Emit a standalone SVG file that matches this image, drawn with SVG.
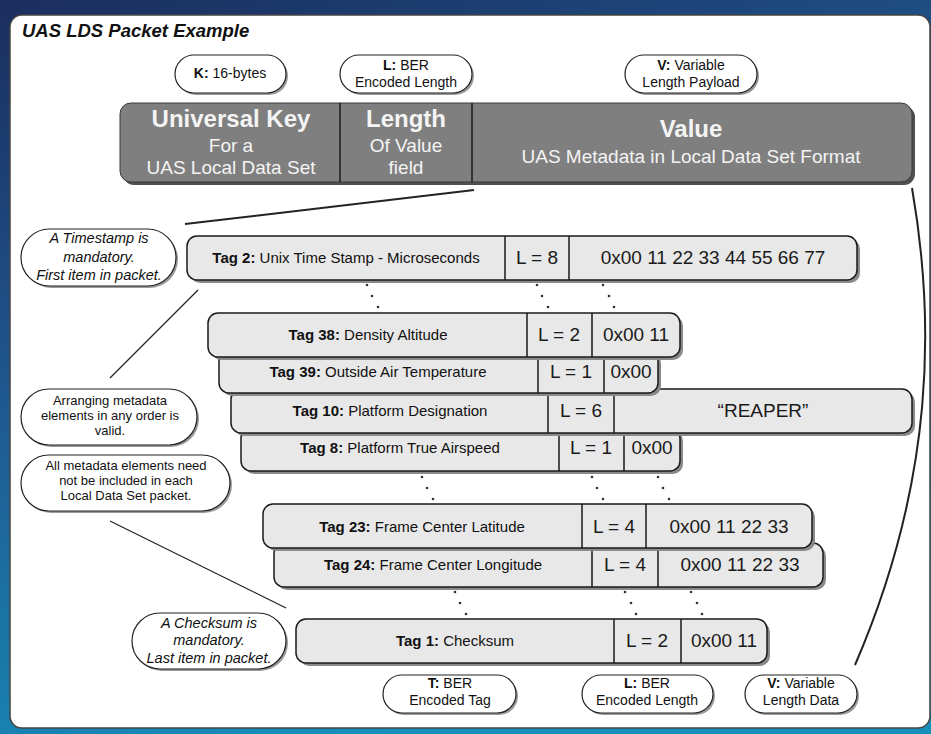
<svg xmlns="http://www.w3.org/2000/svg" width="931" height="734" viewBox="0 0 931 734">
<defs>
<linearGradient id="bg" x1="0" y1="0" x2="0.4" y2="1">
<stop offset="0" stop-color="#1b2d5e"/>
<stop offset="0.5" stop-color="#1f5b92"/>
<stop offset="1" stop-color="#1690bb"/>
</linearGradient>
<style>
text{font-family:"Liberation Sans",Arial,sans-serif;fill:#111}
.box{fill:#e8e8e8;stroke:#1a1a1a;stroke-width:1.5}
.shd{fill:#8a8a8a}
.dv{stroke:#1a1a1a;stroke-width:1.5}
.lb{font-size:15px;text-anchor:middle}
.bg19{font-size:19px;text-anchor:middle;fill:#1a1a1a}
.pill{fill:#fff;stroke:#222;stroke-width:1.2}
.pshd{fill:#9a9a9a}
.pt{font-size:14px;text-anchor:middle}
.ct{font-size:14.5px;text-anchor:middle}
.cs{font-size:13px;text-anchor:middle}
.it{font-style:italic}
.b{font-weight:bold}
.hd{fill:#f4f4f4;text-anchor:middle}
.ln{stroke:#222;fill:none}
.dot{fill:#333}
</style>
</defs>
<rect x="0" y="0" width="931" height="734" fill="url(#bg)"/>
<rect id="panel" x="10" y="15" width="920" height="713" rx="12" fill="#fff" stroke="#444" stroke-width="1.5"/>
<text x="22" y="37" font-size="18.5" font-weight="bold" font-style="italic">UAS LDS Packet Example</text>

<g id="header">
<rect x="123" y="106" width="792" height="79" rx="11" fill="#505050"/>
<rect x="120" y="103" width="792" height="79" rx="11" fill="#7f7f7f" stroke="#3a3a3a" stroke-width="1"/>
<line x1="340" y1="103" x2="340" y2="182" class="dv"/>
<line x1="472" y1="103" x2="472" y2="182" class="dv"/>
<text class="hd b" x="231" y="127" font-size="24">Universal Key</text>
<text class="hd" x="231" y="152" font-size="19">For a</text>
<text class="hd" x="231" y="174" font-size="19">UAS Local Data Set</text>
<text class="hd b" x="406" y="127" font-size="24">Length</text>
<text class="hd" x="406" y="152" font-size="19">Of Value</text>
<text class="hd" x="406" y="174" font-size="19">field</text>
<text class="hd b" x="691" y="137" font-size="24">Value</text>
<text class="hd" x="691" y="163" font-size="19">UAS Metadata in Local Data Set Format</text>
</g>

<g id="pill-k">
<rect class="pshd" x="177" y="57" width="111" height="38" rx="19"/>
<rect class="pill" x="175" y="55" width="111" height="38" rx="19"/>
<text class="pt" x="230" y="78"><tspan class="b">K:</tspan> 16-bytes</text>
</g>
<g id="pill-l-top">
<rect class="pshd" x="342" y="57" width="132" height="38" rx="19"/>
<rect class="pill" x="340" y="55" width="132" height="38" rx="19"/>
<text class="pt" x="406" y="70"><tspan class="b">L:</tspan> BER</text>
<text class="pt" x="406" y="87">Encoded Length</text>
</g>
<g id="pill-v-top">
<rect class="pshd" x="627" y="57" width="132" height="38" rx="19"/>
<rect class="pill" x="625" y="55" width="132" height="38" rx="19"/>
<text class="pt" x="691" y="70"><tspan class="b">V:</tspan> Variable</text>
<text class="pt" x="691" y="87">Length Payload</text>
</g>

<g id="connectors">
<line class="ln" x1="185" y1="224" x2="474" y2="190" stroke-width="2"/>
<path class="ln" d="M912,188 C935,320 935,480 855,665" stroke-width="2"/>
<line class="ln" x1="198" y1="290" x2="110" y2="378" stroke="#444" stroke-width="1.2"/>
<line class="ln" x1="110" y1="521" x2="286" y2="608" stroke="#444" stroke-width="1.2"/>
<g class="dot">
<circle cx="367" cy="285" r="1.3"/><circle cx="372" cy="296" r="1.3"/><circle cx="378" cy="307" r="1.3"/>
<circle cx="537" cy="285" r="1.3"/><circle cx="542" cy="296" r="1.3"/><circle cx="548" cy="307" r="1.3"/>
<circle cx="603" cy="285" r="1.3"/><circle cx="609" cy="296" r="1.3"/><circle cx="614" cy="307" r="1.3"/>
<circle cx="422" cy="477" r="1.3"/><circle cx="427" cy="488" r="1.3"/><circle cx="433" cy="499" r="1.3"/>
<circle cx="592" cy="477" r="1.3"/><circle cx="597" cy="488" r="1.3"/><circle cx="603" cy="499" r="1.3"/>
<circle cx="658" cy="477" r="1.3"/><circle cx="663" cy="488" r="1.3"/><circle cx="669" cy="499" r="1.3"/>
<circle cx="455" cy="592" r="1.3"/><circle cx="460" cy="603" r="1.3"/><circle cx="466" cy="614" r="1.3"/>
<circle cx="625" cy="592" r="1.3"/><circle cx="631" cy="603" r="1.3"/><circle cx="636" cy="614" r="1.3"/>
<circle cx="691" cy="592" r="1.3"/><circle cx="697" cy="603" r="1.3"/><circle cx="702" cy="614" r="1.3"/>
</g>
</g>

<g id="tag2">
<rect class="shd" x="190" y="239" width="670" height="44" rx="10"/>
<rect class="box" x="187" y="236" width="670" height="44" rx="10"/>
<line class="dv" x1="505" y1="236" x2="505" y2="280"/>
<line class="dv" x1="569" y1="236" x2="569" y2="280"/>
<text class="lb" x="346" y="263"><tspan class="b">Tag 2:</tspan> Unix Time Stamp - Microseconds</text>
<text class="bg19" x="537" y="264">L = 8</text>
<text class="bg19" x="713" y="264">0x00 11 22 33 44 55 66 77</text>
</g>

<g id="tag8">
<rect class="shd" x="244" y="431" width="439" height="43" rx="10"/>
<rect class="box" x="241" y="428" width="439" height="43" rx="10"/>
<line class="dv" x1="559" y1="428" x2="559" y2="471"/>
<line class="dv" x1="624" y1="428" x2="624" y2="471"/>
<text class="lb" x="400" y="453"><tspan class="b">Tag 8:</tspan> Platform True Airspeed</text>
<text class="bg19" x="591" y="454">L = 1</text>
<text class="bg19" x="652" y="454">0x00</text>
</g>

<g id="tag10">
<rect class="shd" x="234" y="392" width="681" height="44" rx="10"/>
<rect class="box" x="231" y="389" width="681" height="44" rx="10"/>
<line class="dv" x1="548" y1="389" x2="548" y2="433"/>
<line class="dv" x1="614" y1="389" x2="614" y2="433"/>
<text class="lb" x="390" y="416"><tspan class="b">Tag 10:</tspan> Platform Designation</text>
<text class="bg19" x="581" y="417">L = 6</text>
<text class="bg19" x="763" y="417">“REAPER”</text>
</g>

<g id="tag39">
<rect class="shd" x="222" y="353" width="439" height="43" rx="10"/>
<rect class="box" x="219" y="350" width="439" height="43" rx="10"/>
<line class="dv" x1="538" y1="350" x2="538" y2="393"/>
<line class="dv" x1="604" y1="350" x2="604" y2="393"/>
<text class="lb" x="378" y="377"><tspan class="b">Tag 39:</tspan> Outside Air Temperature</text>
<text class="bg19" x="571" y="378">L = 1</text>
<text class="bg19" x="631" y="378">0x00</text>
</g>

<g id="tag38">
<rect class="shd" x="211" y="316" width="472" height="44" rx="10"/>
<rect class="box" x="208" y="313" width="472" height="44" rx="10"/>
<line class="dv" x1="527" y1="313" x2="527" y2="357"/>
<line class="dv" x1="592" y1="313" x2="592" y2="357"/>
<text class="lb" x="368" y="340"><tspan class="b">Tag 38:</tspan> Density Altitude</text>
<text class="bg19" x="559" y="341">L = 2</text>
<text class="bg19" x="636" y="341">0x00 11</text>
</g>

<g id="tag24">
<rect class="shd" x="277" y="546" width="549" height="44" rx="10"/>
<rect class="box" x="274" y="543" width="549" height="44" rx="10"/>
<line class="dv" x1="592" y1="543" x2="592" y2="587"/>
<line class="dv" x1="658" y1="543" x2="658" y2="587"/>
<text class="lb" x="433" y="570"><tspan class="b">Tag 24:</tspan> Frame Center Longitude</text>
<text class="bg19" x="625" y="571">L = 4</text>
<text class="bg19" x="740" y="571">0x00 11 22 33</text>
</g>

<g id="tag23">
<rect class="shd" x="266" y="507" width="549" height="44" rx="10"/>
<rect class="box" x="263" y="504" width="549" height="44" rx="10"/>
<line class="dv" x1="582" y1="504" x2="582" y2="548"/>
<line class="dv" x1="646" y1="504" x2="646" y2="548"/>
<text class="lb" x="422" y="532"><tspan class="b">Tag 23:</tspan> Frame Center Latitude</text>
<text class="bg19" x="614" y="533">L = 4</text>
<text class="bg19" x="729" y="533">0x00 11 22 33</text>
</g>

<g id="tag1">
<rect class="shd" x="299" y="622" width="471" height="44" rx="10"/>
<rect class="box" x="296" y="619" width="471" height="44" rx="10"/>
<line class="dv" x1="614" y1="619" x2="614" y2="663"/>
<line class="dv" x1="681" y1="619" x2="681" y2="663"/>
<text class="lb" x="455" y="646"><tspan class="b">Tag 1:</tspan> Checksum</text>
<text class="bg19" x="647" y="647">L = 2</text>
<text class="bg19" x="724" y="647">0x00 11</text>
</g>

<g id="note-timestamp">
<rect class="pshd" x="23" y="231" width="155" height="57" rx="28.5"/>
<rect class="pill" x="21" y="229" width="155" height="57" rx="28.5"/>
<text class="ct it" x="99" y="243">A Timestamp is</text>
<text class="ct it" x="99" y="262">mandatory.</text>
<text class="ct it" x="99" y="280">First item in packet.</text>
</g>
<g id="note-order">
<rect class="pshd" x="23" y="391" width="176" height="56" rx="28"/>
<rect class="pill" x="21" y="389" width="176" height="56" rx="28"/>
<text class="cs" x="110" y="405">Arranging metadata</text>
<text class="cs" x="110" y="420">elements in any order is</text>
<text class="cs" x="110" y="435">valid.</text>
</g>
<g id="note-optional">
<rect class="pshd" x="23" y="457" width="209" height="56" rx="28"/>
<rect class="pill" x="21" y="455" width="209" height="56" rx="28"/>
<text class="cs" x="126" y="470">All metadata elements need</text>
<text class="cs" x="126" y="485">not be included in each</text>
<text class="cs" x="126" y="500">Local Data Set packet.</text>
</g>
<g id="note-checksum">
<rect class="pshd" x="134" y="615" width="154" height="56" rx="28"/>
<rect class="pill" x="132" y="613" width="154" height="56" rx="28"/>
<text class="ct it" x="209" y="628">A Checksum is</text>
<text class="ct it" x="209" y="645">mandatory.</text>
<text class="ct it" x="209" y="663">Last item in packet.</text>
</g>

<g id="pill-t-bottom">
<rect class="pshd" x="385" y="677" width="133" height="38" rx="19"/>
<rect class="pill" x="383" y="675" width="133" height="38" rx="19"/>
<text class="pt" x="450" y="688"><tspan class="b">T:</tspan> BER</text>
<text class="pt" x="450" y="705">Encoded Tag</text>
</g>
<g id="pill-l-bottom">
<rect class="pshd" x="584" y="677" width="131" height="38" rx="19"/>
<rect class="pill" x="582" y="675" width="131" height="38" rx="19"/>
<text class="pt" x="647" y="688"><tspan class="b">L:</tspan> BER</text>
<text class="pt" x="647" y="705">Encoded Length</text>
</g>
<g id="pill-v-bottom">
<rect class="pshd" x="747" y="677" width="112" height="38" rx="19"/>
<rect class="pill" x="745" y="675" width="112" height="38" rx="19"/>
<text class="pt" x="801" y="688"><tspan class="b">V:</tspan> Variable</text>
<text class="pt" x="801" y="705">Length Data</text>
</g>
</svg>
